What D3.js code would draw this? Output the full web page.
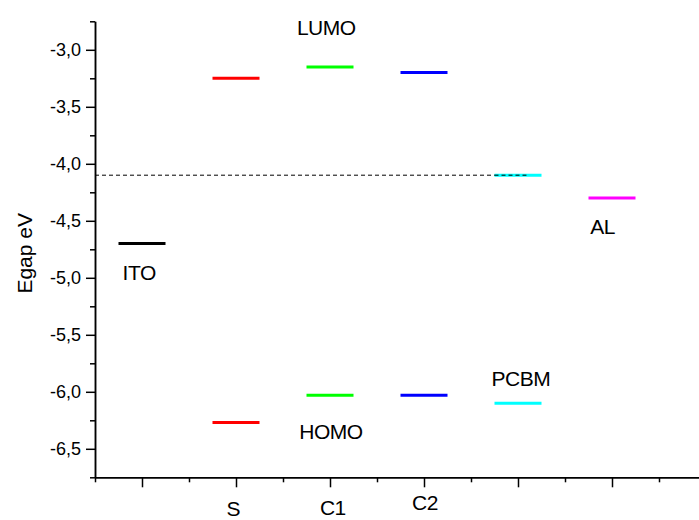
<!DOCTYPE html>
<html>
<head>
<meta charset="utf-8">
<script src="https://cdn.jsdelivr.net/npm/d3@7"></script>
<style>
  body { margin: 0; background: #fff; }
  svg { display: block; font-family: "Liberation Sans", Arial, sans-serif; }
  .axis path, .axis line { stroke: #000; stroke-width: 1.5; }
  .axis text { font-size: 18px; fill: #000; }
</style>
</head>
<body>
<div class="chart"></div>
<script>

// energy levels (eV), one slot per material
var materials = ["ITO", "S", "C1", "C2", "PCBM", "AL"];
var xPos = [1, 2, 3, 4, 5, 6];
var lumo = [-4.7, -3.25, -3.15, -3.2, -4.1, -4.3];
var homo = [null, -6.27, -6.03, -6.03, -6.1, null];
var colors = ["#000000", "#ff0000", "#00ff00", "#0000ff", "#00ffff", "#ff00ff"];

// dashed reference level (PCBM LUMO)
var refLevel = -4.1;
var refFrom = 0.5;
var refTo = 5.09;

// text annotations
var noteText = ["LUMO", "ITO", "AL", "PCBM", "HOMO", "S", "C1", "C2"];
var noteX = [2.96, 0.97, 5.9, 5.03, 3.01, 1.97, 3.03, 4.01];
var noteY = [-2.87, -5.02, -4.62, -5.95, -6.41, -7.09, -7.08, -7.04];

var yMajor = [-3.0, -3.5, -4.0, -4.5, -5.0, -5.5, -6.0, -6.5];
var yMinor = [-2.75, -3.25, -3.75, -4.25, -4.75, -5.25, -5.75, -6.25, -6.75];
var xMajor = [1, 2, 3, 4, 5, 6, 7];
var xMinor = [0.5, 1.5, 2.5, 3.5, 4.5, 5.5, 6.5];

var W = 699, H = 520;
var halfW = 0.25;   // half length of a level bar, in x units

var xScale = d3.scaleLinear().domain([0.5, 7]).range([95, 706]);
var yScale = d3.scaleLinear().domain([-6.75, -2.75]).range([477.3, 21.3]);

var svg = d3.select(".chart")
    .append("svg")
    .attr("width", W)
    .attr("height", H);

// y axis
svg.append("g")
    .attr("class", "axis")
    .attr("transform", "translate(" + xScale(0.5) + ",0)")
    .call(d3.axisLeft(yScale)
        .tickValues(yMajor)
        .tickSize(9)
        .tickSizeOuter(0)
        .tickPadding(5)
        .tickFormat(function(d) { return d3.format(".1f")(d).replace("−", "-").replace(".", ","); }));

svg.append("g")
    .attr("class", "axis")
    .attr("transform", "translate(" + xScale(0.5) + ",0)")
    .call(d3.axisLeft(yScale)
        .tickValues(yMinor)
        .tickSize(5)
        .tickSizeOuter(0)
        .tickFormat(""));

// x axis
svg.append("g")
    .attr("class", "axis")
    .attr("transform", "translate(0," + yScale(-6.75) + ")")
    .call(d3.axisBottom(xScale)
        .tickValues(xMajor)
        .tickSize(10)
        .tickSizeOuter(0)
        .tickFormat(""));

svg.append("g")
    .attr("class", "axis")
    .attr("transform", "translate(0," + yScale(-6.75) + ")")
    .call(d3.axisBottom(xScale)
        .tickValues(xMinor)
        .tickSize(5)
        .tickSizeOuter(0)
        .tickFormat(""));

svg.append("text")
    .attr("transform", "rotate(-90)")
    .attr("x", -yScale(-4.75) - 4)
    .attr("y", 32)
    .attr("text-anchor", "middle")
    .style("font-size", "21px")
    .text("Egap eV");

// dashed line
svg.append("line")
    .attr("x1", xScale(refFrom))
    .attr("x2", xScale(refTo))
    .attr("y1", yScale(refLevel))
    .attr("y2", yScale(refLevel))
    .attr("stroke", "#000")
    .attr("stroke-width", 1)
    .attr("stroke-dasharray", "4,3");

var levels = [];
materials.forEach(function(m, i) {
    if (lumo[i] != null) levels.push({x: xPos[i], y: lumo[i], c: colors[i]});
    if (homo[i] != null) levels.push({x: xPos[i], y: homo[i], c: colors[i]});
});

svg.selectAll(".level")
    .data(levels)
    .enter().append("line")
    .attr("class", "level")
    .attr("x1", function(d) { return xScale(d.x - halfW); })
    .attr("x2", function(d) { return xScale(d.x + halfW); })
    .attr("y1", function(d) { return yScale(d.y); })
    .attr("y2", function(d) { return yScale(d.y); })
    .attr("stroke", function(d) { return d.c; })
    .attr("stroke-width", 3);

// redraw the dashes over the cyan bar like the original
svg.append("line")
    .attr("x1", xScale(4.75))
    .attr("x2", xScale(refTo))
    .attr("y1", yScale(refLevel))
    .attr("y2", yScale(refLevel))
    .attr("stroke", "#000")
    .attr("stroke-width", 1)
    .attr("stroke-dasharray", "4,3");

svg.selectAll(".note")
    .data(noteText)
    .enter().append("text")
    .attr("class", "note")
    .attr("x", function(d, i) { return xScale(noteX[i]); })
    .attr("y", function(d, i) { return yScale(noteY[i]); })
    .attr("text-anchor", "middle")
    .style("font-size", "21px")
    .style("letter-spacing", "-0.5px")
    .text(function(d) { return d; });

</script>
</body>
</html>
